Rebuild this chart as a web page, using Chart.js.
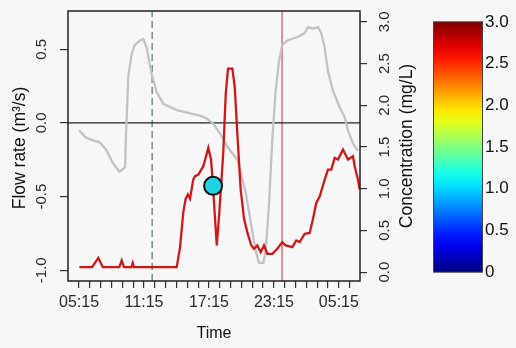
<!DOCTYPE html>
<html>
<head>
<meta charset="utf-8">
<script src="https://cdn.jsdelivr.net/npm/chart.js@4"></script>
<style>
  html, body { margin: 0; padding: 0; background: #f7f7f7; }
  #wrap { width: 516px; height: 348px; }
</style>
</head>
<body>
<div id="wrap"><canvas id="grafico" width="516" height="348"></canvas></div>
<script>
// hours since midnight of day 1 (24+ = next day)
let flowHours = [5.25, 5.9, 6.6, 7.12, 7.74, 8.36, 8.97, 9.34, 9.5, 9.59, 9.8, 10.12, 10.4, 10.88, 11.19, 11.5, 11.96, 12.42, 13.03, 14.27, 16.42, 17.04, 17.65, 18.27, 18.94, 19.87, 20.64, 21.1, 21.57, 21.87, 22.27, 22.49, 22.79, 23.1, 23.41, 23.72, 24.02, 24.48, 25.47, 26.09, 26.39, 26.86, 27.32, 27.62, 27.94, 28.24, 28.7, 29.32, 29.78, 30.09, 30.55, 31.01];
let flowRate = [-0.05, -0.1, -0.12, -0.13, -0.18, -0.27, -0.33, -0.31, -0.3, -0.08, 0.32, 0.47, 0.53, 0.56, 0.57, 0.51, 0.33, 0.21, 0.13, 0.087, 0.05, 0.03, -0.005, -0.07, -0.16, -0.25, -0.47, -0.67, -0.87, -0.95, -0.95, -0.87, -0.56, -0.11, 0.22, 0.42, 0.53, 0.56, 0.585, 0.61, 0.65, 0.64, 0.65, 0.61, 0.51, 0.35, 0.22, 0.107, 0.04, -0.05, -0.14, -0.19];

let concHours = [5.28, 6.45, 7.03, 7.45, 8.97, 9.19, 9.4, 10.1, 10.21, 10.33, 14.27, 14.58, 14.88, 15.1, 15.3, 15.5, 15.8, 15.96, 16.27, 16.73, 17.19, 17.44, 17.6, 17.97, 18.2, 18.57, 18.8, 19.01, 19.41, 19.63, 19.87, 20.18, 20.49, 20.79, 21.16, 21.41, 21.71, 22.03, 22.33, 22.64, 23.1, 23.56, 24.02, 24.34, 24.95, 25.31, 25.63, 26.09, 26.55, 26.86, 27.16, 27.48, 27.94, 28.24, 28.55, 28.86, 29.17, 29.63, 30.09, 30.55, 30.71, 31.01, 31.17];
let concValues = [0.06, 0.06, 0.17, 0.06, 0.06, 0.14, 0.06, 0.06, 0.11, 0.06, 0.06, 0.3, 0.72, 0.88, 0.93, 0.88, 1.11, 1.15, 1.17, 1.27, 1.49, 1.35, 1.07, 0.32, 0.7, 1.43, 2.14, 2.44, 2.44, 2.22, 1.66, 0.99, 0.64, 0.48, 0.32, 0.28, 0.32, 0.24, 0.32, 0.22, 0.22, 0.28, 0.36, 0.32, 0.3, 0.38, 0.36, 0.46, 0.47, 0.64, 0.83, 0.91, 1.11, 1.23, 1.23, 1.37, 1.35, 1.47, 1.35, 1.39, 1.27, 1.11, 0.99];

// sample point (circle)
let sampleHour = 17.63;
let sampleFlow = -0.427;
let sampleConc = 1.0;

// vertical markers
let dashedLineHour = 12;
let redLineHour = 24;

// axis ranges and ticks
let xMin = 4.23, xMax = 31.2;
let flowMin = -1.073, flowMax = 0.76;
let concMin = -0.106, concMax = 3.13;
let xTickHours = [5.25, 11.25, 17.25, 23.25, 29.25];
let xTickLabels = ['05:15', '11:15', '17:15', '23:15', '05:15'];
let flowTicks = [-1.0, -0.5, 0.0, 0.5];
let concTicks = [0, 0.5, 1.0, 1.5, 2.0, 2.5, 3.0];
let colorbarLabels = ['0', '0.5', '1.0', '1.5', '2.0', '2.5', '3.0'];

const toPts = (xs, ys) => xs.map((x, i) => ({ x: x, y: ys[i] }));

// jet colour ramp for the legend bar
function jet(t) {
    let r = Math.min(Math.max(Math.min(4 * t - 1.5, -4 * t + 4.5), 0), 1);
    let g = Math.min(Math.max(Math.min(4 * t - 0.5, -4 * t + 3.5), 0), 1);
    let b = Math.min(Math.max(Math.min(4 * t + 0.5, -4 * t + 2.5), 0), 1);
    return `rgb(${Math.round(r * 255)},${Math.round(g * 255)},${Math.round(b * 255)})`;
}

const FONT = '"Liberation Sans", Arial, sans-serif';

let fondo = {
    id: 'fondo',
    beforeDraw(chart) {
        let ctx = chart.ctx;
        ctx.save();
        ctx.fillStyle = '#f7f7f7';
        ctx.fillRect(0, 0, chart.width, chart.height);
        ctx.restore();
    }
};

let decoracion = {
    id: 'decoracion',
    afterDatasetsDraw(chart) {
        let ctx = chart.ctx;
        let a = chart.chartArea;
        ctx.save();
        ctx.strokeStyle = '#222';
        ctx.lineWidth = 1.5;
        ctx.strokeRect(a.left, a.top, a.right - a.left, a.bottom - a.top);
        ctx.restore();
    },
    afterDraw(chart) {
        let ctx = chart.ctx;
        let sx = chart.scales.x, sy = chart.scales.y, sy1 = chart.scales.y1;
        let a = chart.chartArea;
        ctx.save();
        ctx.fillStyle = '#2a2a2a';

        // x tick labels
        ctx.font = '16px ' + FONT;
        ctx.textAlign = 'center';
        ctx.textBaseline = 'middle';
        xTickHours.forEach((h, i) => ctx.fillText(xTickLabels[i], sx.getPixelForValue(h), 303));

        // rotated y labels
        ctx.font = '15px ' + FONT;
        flowTicks.forEach(v => {
            ctx.save();
            ctx.translate(42, sy.getPixelForValue(v));
            ctx.rotate(-Math.PI / 2);
            ctx.fillText(v.toFixed(1), 0, 0);
            ctx.restore();
        });
        concTicks.forEach(v => {
            ctx.save();
            ctx.translate(385, sy1.getPixelForValue(v));
            ctx.rotate(-Math.PI / 2);
            ctx.fillText(v.toFixed(1), 0, 0);
            ctx.restore();
        });

        // axis titles
        ctx.fillStyle = '#111';
        ctx.font = '17.5px ' + FONT;
        let midY = (a.top + a.bottom) / 2;
        ctx.save();
        ctx.translate(20, midY + 2);
        ctx.rotate(-Math.PI / 2);
        ctx.fillText('Flow rate (m\u00b3/s)', 0, 0);
        ctx.restore();
        ctx.save();
        ctx.translate(407, midY);
        ctx.rotate(-Math.PI / 2);
        ctx.fillText('Concentration (mg/L)', 0, 0);
        ctx.restore();
        ctx.font = '16px ' + FONT;
        ctx.fillText('Time', (a.left + a.right) / 2, 334);

        // colour bar, same 0-3 range as the right axis
        let top = sy1.getPixelForValue(3), bottom = sy1.getPixelForValue(0);
        let grad = ctx.createLinearGradient(0, bottom, 0, top);
        for (let i = 0; i <= 20; i++) grad.addColorStop(i / 20, jet(i / 20));
        ctx.fillStyle = grad;
        ctx.fillRect(433, top, 49, bottom - top);
        ctx.strokeStyle = '#444';
        ctx.lineWidth = 1;
        ctx.strokeRect(433.5, top, 49, bottom - top);
        ctx.fillStyle = '#111';
        ctx.font = '17px ' + FONT;
        ctx.textAlign = 'left';
        concTicks.forEach((v, i) => ctx.fillText(colorbarLabels[i], 485, sy1.getPixelForValue(v)));
        ctx.restore();
    }
};

let config = {
    type: 'line',
    data: {
        datasets: [
            {
                label: 'sample',
                data: [{ x: sampleHour, y: sampleFlow }],
                yAxisID: 'y',
                showLine: false,
                pointRadius: 9,
                pointBackgroundColor: '#1fd2e6',
                pointBorderColor: '#111',
                pointBorderWidth: 2,
                order: 0
            },
            {
                label: 'concentration',
                data: toPts(concHours, concValues),
                yAxisID: 'y1',
                borderColor: '#d01818',
                borderWidth: 2.3,
                pointRadius: 0,
                tension: 0,
                order: 1
            },
            {
                label: 'flow',
                data: toPts(flowHours, flowRate),
                yAxisID: 'y',
                borderColor: '#c2c2c2',
                borderWidth: 2.3,
                pointRadius: 0,
                tension: 0,
                order: 2
            },
            {
                label: 'zero',
                data: [{ x: xMin, y: 0 }, { x: xMax, y: 0 }],
                yAxisID: 'y',
                borderColor: '#222',
                borderWidth: 1.3,
                pointRadius: 0,
                order: 3
            },
            {
                label: 'dashed',
                data: [{ x: dashedLineHour, y: flowMin }, { x: dashedLineHour, y: flowMax }],
                yAxisID: 'y',
                borderColor: '#2f5e3c',
                borderWidth: 1,
                borderDash: [7, 4],
                pointRadius: 0,
                order: 4
            },
            {
                label: 'red',
                data: [{ x: redLineHour, y: flowMin }, { x: redLineHour, y: flowMax }],
                yAxisID: 'y',
                borderColor: '#c83030',
                borderWidth: 1,
                pointRadius: 0,
                order: 5
            }
        ]
    },
    options: {
        responsive: false,
        animation: false,
        layout: { padding: { top: 7, left: 0, right: 0, bottom: 0 } },
        plugins: { legend: { display: false }, tooltip: { enabled: false } },
        scales: {
            x: {
                type: 'linear',
                min: xMin,
                max: xMax,
                afterBuildTicks: s => {
                    let t = [];
                    for (let h = 5.25; h <= 30.25 + 1e-6; h += 1) t.push({ value: h });
                    s.ticks = t;
                },
                afterFit: s => { s.height = 67; },
                ticks: { display: false },
                border: { display: false },
                grid: { drawOnChartArea: false, drawTicks: true, tickLength: 7, color: '#333', lineWidth: 1.2 }
            },
            y: {
                position: 'left',
                min: flowMin,
                max: flowMax,
                afterBuildTicks: s => { s.ticks = flowTicks.map(v => ({ value: v })); },
                afterFit: s => { s.width = 68; },
                ticks: { display: false },
                border: { display: false },
                grid: { drawOnChartArea: false, drawTicks: true, tickLength: 8, color: '#333', lineWidth: 1.2 }
            },
            y1: {
                position: 'right',
                min: concMin,
                max: concMax,
                afterBuildTicks: s => { s.ticks = concTicks.map(v => ({ value: v })); },
                afterFit: s => { s.width = 156; },
                ticks: { display: false },
                border: { display: false },
                grid: { drawOnChartArea: false, drawTicks: true, tickLength: 7, color: '#333', lineWidth: 1.2 }
            }
        }
    },
    plugins: [fondo, decoracion]
};

let grafico = new Chart(document.getElementById('grafico').getContext('2d'), config);
</script>
</body>
</html>
